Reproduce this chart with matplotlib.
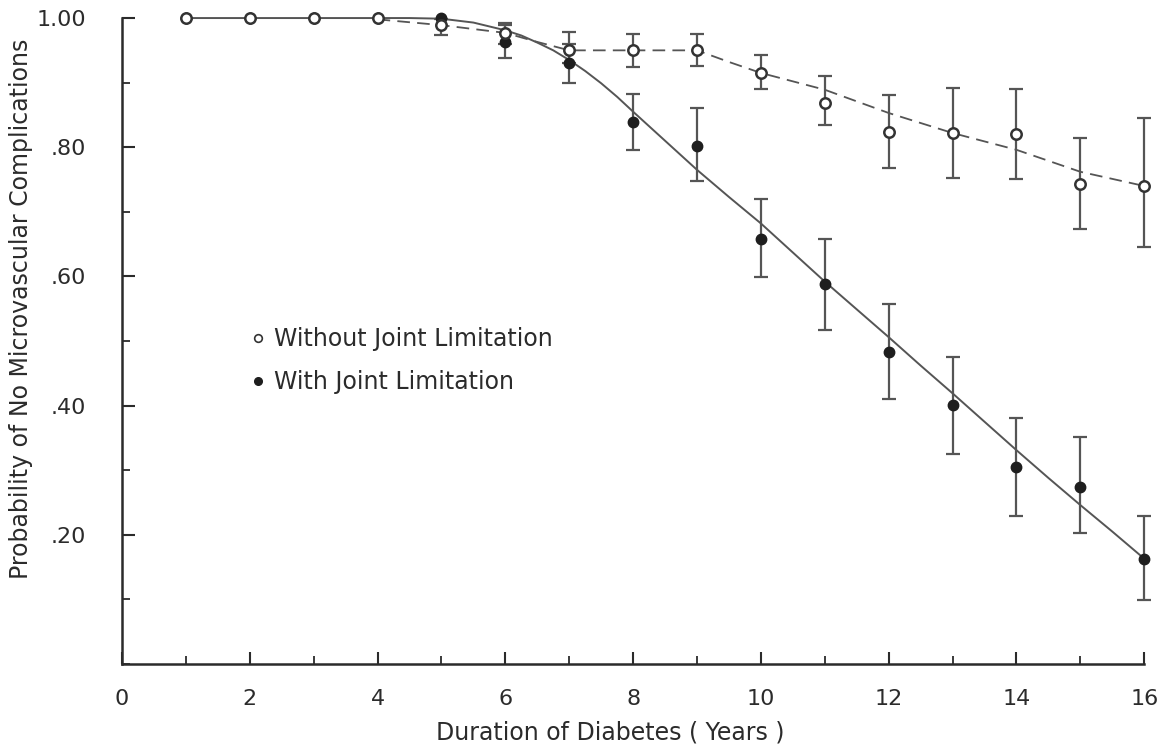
import matplotlib
matplotlib.use('Agg')
import matplotlib.pyplot as plt
from matplotlib.lines import Line2D
from matplotlib.ticker import MultipleLocator, FixedLocator

# --- data ---
years = [1, 2, 3, 4, 5, 6, 7, 8, 9, 10, 11, 12, 13, 14, 15, 16]

without_p = [1.0, 1.0, 1.0, 1.0, 0.989, 0.977, 0.950, 0.951, 0.950, 0.915,
             0.868, 0.823, 0.822, 0.820, 0.743, 0.740]
without_lo = [None, None, None, None, 0.974, 0.960, 0.930, 0.924, 0.926, 0.890,
              0.834, 0.768, 0.752, 0.751, 0.673, 0.645]
without_hi = [None, None, None, None, 0.998, 0.990, 0.978, 0.976, 0.976, 0.943,
              0.910, 0.881, 0.892, 0.890, 0.814, 0.845]

with_p = [1.0, 1.0, 1.0, 1.0, 1.0, 0.963, 0.930, 0.839, 0.802, 0.658,
          0.588, 0.483, 0.401, 0.305, 0.274, 0.163]
with_lo = [None, None, None, None, None, 0.938, 0.900, 0.796, 0.748, 0.599,
           0.517, 0.410, 0.325, 0.229, 0.203, 0.099]
with_hi = [None, None, None, None, None, 0.992, 0.960, 0.882, 0.861, 0.720,
           0.658, 0.557, 0.475, 0.381, 0.351, 0.229]

# fitted curves
fit_with_x = [1, 2, 3, 4, 4.5, 5, 5.5, 6, 6.25, 6.5, 6.75, 7, 7.25, 7.5,
              7.75, 8, 8.5, 9, 9.5, 10, 10.5, 11, 11.5, 12, 12.5, 13, 13.5,
              14, 14.5, 15, 15.5, 16]
fit_with_y = [1.0, 1.0, 1.0, 1.0, 1.0, 0.999, 0.993, 0.981, 0.973, 0.962,
              0.950, 0.935, 0.918, 0.899, 0.878, 0.855, 0.810, 0.765, 0.723,
              0.682, 0.637, 0.592, 0.549, 0.506, 0.462, 0.419, 0.375, 0.331,
              0.288, 0.246, 0.205, 0.163]

fit_without_x = [4, 5, 6, 6.5, 7, 8, 9, 9.5, 10, 11, 12, 13, 14, 15, 16]
fit_without_y = [0.998, 0.989, 0.977, 0.963, 0.950, 0.950, 0.950, 0.932,
                 0.915, 0.889, 0.853, 0.822, 0.796, 0.762, 0.740]

x_ticks = [0, 2, 4, 6, 8, 10, 12, 14, 16]
y_ticks = [0.2, 0.4, 0.6, 0.8, 1.0]
y_labels = ['.20', '.40', '.60', '.80', '1.00']

ink = '#2b2b2b'
line_c = '#555555'

fig = plt.figure(figsize=(11.63, 7.52), dpi=100)
ax = fig.add_axes([0.1049, 0.117, 0.8790, 0.859])

ax.plot(fit_with_x, fit_with_y, '-', color=line_c, lw=1.4, clip_on=False)
ax.plot(fit_without_x, fit_without_y, '--', color=line_c, lw=1.3,
        dashes=(7, 4), clip_on=False)


def bars(p, lo, hi):
    xs, ys, el, eh = [], [], [], []
    for x, y, l, h in zip(years, p, lo, hi):
        if l is None:
            continue
        xs.append(x)
        ys.append(y)
        el.append(y - l)
        eh.append(h - y)
    ax.errorbar(xs, ys, yerr=[el, eh], fmt='none', ecolor=line_c,
                elinewidth=1.6, capsize=5, capthick=1.6, clip_on=False)


bars(with_p, with_lo, with_hi)
bars(without_p, without_lo, without_hi)

ax.plot(years, with_p, 'o', ms=7.5, color='#1e1e1e', mec='#1e1e1e',
        clip_on=False, zorder=5)
ax.plot(years, without_p, 'o', ms=7.5, mfc='white', mec='#333333',
        mew=1.8, clip_on=False, zorder=6)

ax.set_xlim(0, 16)
ax.set_ylim(0, 1.0)
for s in ['top', 'right']:
    ax.spines[s].set_visible(False)
for s in ['left', 'bottom']:
    ax.spines[s].set_color(ink)
    ax.spines[s].set_linewidth(1.8)

ax.xaxis.set_major_locator(FixedLocator(x_ticks))
ax.xaxis.set_minor_locator(MultipleLocator(1))
ax.set_xticklabels([str(v) for v in x_ticks])
ax.yaxis.set_major_locator(FixedLocator(y_ticks))
ax.yaxis.set_minor_locator(MultipleLocator(0.1))
ax.set_yticklabels(y_labels)

ax.tick_params(which='major', direction='in', length=9, width=1.5,
               color=ink, labelsize=16, labelcolor=ink)
ax.tick_params(which='minor', direction='in', length=6, width=1.3, color=ink)
ax.tick_params(axis='x', which='major', pad=18)
ax.tick_params(axis='y', which='major', pad=26)

fig.text(0.525, 0.01, 'Duration of Diabetes ( Years )', ha='center',
         va='bottom', fontsize=17, color=ink)
fig.text(0.018, 0.59, 'Probability of No Microvascular Complications',
         rotation=90, ha='center', va='center', fontsize=17, color=ink)

handles = [Line2D([], [], ls='none', marker='o', ms=5.5, mfc='white',
                  mec='#333333', mew=1.2),
           Line2D([], [], ls='none', marker='o', ms=5.5, color='#1e1e1e')]
ax.legend(handles, ['Without Joint Limitation', 'With Joint Limitation'],
          loc='center left', bbox_to_anchor=(0.105, 0.47), frameon=False,
          fontsize=17, handlelength=0.6, handletextpad=0.4,
          labelspacing=0.8, labelcolor=ink)

fig.savefig('out.png', dpi=100)
